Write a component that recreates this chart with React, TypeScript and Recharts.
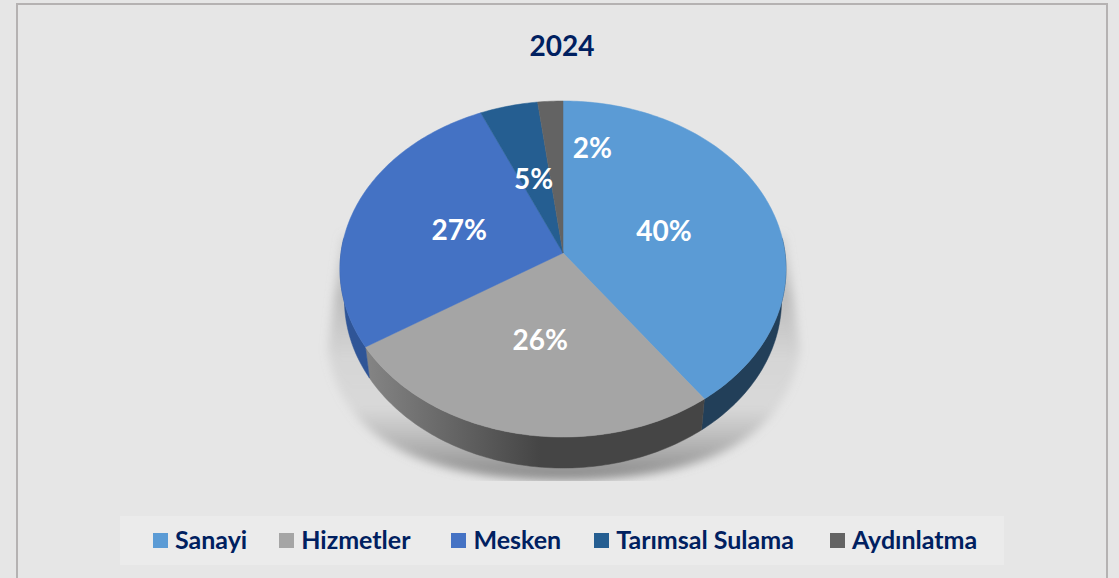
import { PieChart, Pie, Legend } from 'recharts';

const categories = ['Sanayi', 'Hizmetler', 'Mesken', 'Tarımsal Sulama', 'Aydınlatma'];
const shares = [40, 26, 27.4, 4.6, 2];
const topColors = ['#5b9bd5', '#a5a5a5', '#4472c4', '#255e91', '#636363'];
const wallColors = ['#223f59', 'url(#wallGrey)', '#2f5597', '#1a4267', '#454545'];
const labelShift = [[-3, 2], [-1, 0], [1, 0], [-1, 2], [36, -27]];
const legendGaps = [0, 32, 41, 33, 36];

const tableData = categories.map((name, i) => ({
  name,
  value: shares[i],
  fill: topColors[i],
  wall: wallColors[i],
  shift: labelShift[i],
}));

const NAVY = '#002060';
const FONT = 'Lato, sans-serif';
const CX = 563;
const CY = 253;
const RADIUS = 222;
const TILT = 0.75; // vertical squash of the disc
const PERSP = 0.0952; // near edge looks bigger than the far edge
const DEPTH = 31;
const BOTTOM_SCALE = 0.98;

// turn a polar angle on the flat disc into a point on the tilted disc
const project = (deg: number, r: number, cx: number, cy: number) => {
  const rad = (deg * Math.PI) / 180;
  const u = Math.cos(rad) * r;
  const v = -Math.sin(rad) * r;
  const d = 1 - (PERSP * v) / RADIUS;
  return [cx + u / d, cy + (TILT * v) / d];
};

const rimPoints = (from: number, to: number, r: number, cx: number, cy: number) => {
  const steps = Math.max(2, Math.ceil(Math.abs(to - from)));
  const pts: number[][] = [];
  for (let i = 0; i <= steps; i++) {
    pts.push(project(from + ((to - from) * i) / steps, r, cx, cy));
  }
  return pts;
};

const toPath = (pts: number[][]) =>
  'M' + pts.map((p) => `${p[0].toFixed(2)},${p[1].toFixed(2)}`).join('L') + 'Z';

const TopSector = (props: any) => {
  const { cx, cy, outerRadius, startAngle, endAngle, fill } = props;
  const pts = [[cx, cy], ...rimPoints(startAngle, endAngle, outerRadius, cx, cy)];
  return <path d={toPath(pts)} fill={fill} stroke={fill} strokeWidth={0.5} />;
};

const WallSector = (props: any) => {
  const { cx, cy, outerRadius, startAngle, endAngle, wall } = props;
  // only the near half of the rim has a visible wall
  const from = Math.min(startAngle, 5);
  const to = Math.max(endAngle, -185);
  if (from <= to) return <g />;
  const top = rimPoints(from, to, outerRadius, cx, cy);
  const bottom = top
    .map((p) => [cx + (p[0] - cx) * BOTTOM_SCALE, p[1] + DEPTH])
    .reverse();
  return <path d={toPath([...top, ...bottom])} fill={wall} stroke={wall} strokeWidth={0.5} />;
};

const renderPercent = (props: any) => {
  const { cx, cy, outerRadius, midAngle, value, shift } = props;
  const s = shift || props.payload?.shift || [0, 0];
  const [x, y] = project(midAngle, outerRadius * 0.5, cx, cy);
  return (
    <text
      x={x + s[0]}
      y={y + s[1]}
      textAnchor="middle"
      dominantBaseline="central"
      fill="#fff"
      fontFamily={FONT}
      fontWeight={700}
      fontSize={28}
    >
      {`${Math.round(value)}%`}
    </text>
  );
};

const LegendRow = ({ payload }: any) => {
  // both pie layers report their slices, keep one of each
  const items = (payload || []).filter(
    (item: any, i: number, all: any[]) => all.findIndex((o) => o.value === item.value) === i,
  );
  return (
    <div
      style={{
        display: 'flex',
        alignItems: 'center',
        height: 49,
        paddingLeft: 33,
        background: '#ebebeb',
        fontFamily: FONT,
        fontWeight: 700,
        fontSize: 25,
        color: NAVY,
        whiteSpace: 'nowrap',
      }}
    >
      {items.map((item: any, i: number) => (
        <span key={item.value} style={{ display: 'flex', alignItems: 'center', marginLeft: legendGaps[i] }}>
          <span style={{ width: 15, height: 15, background: item.color, marginRight: 7 }} />
          <span style={{ position: 'relative', top: -2 }}>{item.value}</span>
        </span>
      ))}
    </div>
  );
};

export default function App() {
  return (
    <div style={{ position: 'absolute', left: 0, top: 0, width: 1119, height: 578, background: '#e6e6e6', overflow: 'hidden' }}>
      <div
        style={{
          position: 'absolute',
          left: 16,
          top: 3,
          width: 1088,
          height: 600,
          border: '2px solid #b5b2b2',
        }}
      />
      <PieChart
        width={1119}
        height={578}
        margin={{ top: 0, right: 0, bottom: 0, left: 0 }}
        style={{ position: 'absolute', left: 0, top: 0 }}
      >
        <defs>
          <linearGradient id="wallGrey" gradientUnits="userSpaceOnUse" x1={365} y1={0} x2={540} y2={0}>
            <stop offset="0%" stopColor="#858585" />
            <stop offset="100%" stopColor="#454545" />
          </linearGradient>
          <linearGradient id="shadowFill" x1="0" y1="0" x2="0" y2="1">
            <stop offset="0%" stopColor="#9a9a9a" stopOpacity={0.2} />
            <stop offset="25%" stopColor="#9a9a9a" stopOpacity={0.55} />
            <stop offset="50%" stopColor="#9a9a9a" stopOpacity={0.22} />
            <stop offset="70%" stopColor="#9a9a9a" stopOpacity={0.18} />
            <stop offset="100%" stopColor="#7c7c7c" stopOpacity={0.9} />
          </linearGradient>
          <filter id="soft" x="-10%" y="-10%" width="120%" height="120%">
            <feGaussianBlur stdDeviation="5" />
          </filter>
          <clipPath id="shadowClip">
            <rect x={300} y={200} width={520} height={281} />
          </clipPath>
        </defs>
        <g clipPath="url(#shadowClip)">
          <path
            d="M342,235 L328,350 Q345,480 563,480 Q781,480 800,350 L785,235 Z"
            fill="url(#shadowFill)"
            filter="url(#soft)"
          />
        </g>
        <text x={562} y={45} textAnchor="middle" dominantBaseline="central" fill={NAVY} fontFamily={FONT} fontWeight={700} fontSize={28}>
          2024
        </text>
        <Pie
          data={tableData}
          dataKey="value"
          nameKey="name"
          cx={CX}
          cy={CY}
          outerRadius={RADIUS}
          startAngle={90}
          endAngle={-270}
          stroke="none"
          legendType="none"
          shape={WallSector}
          isAnimationActive={false}
        />
        <Pie
          data={tableData}
          dataKey="value"
          nameKey="name"
          cx={CX}
          cy={CY}
          outerRadius={RADIUS}
          startAngle={90}
          endAngle={-270}
          stroke="none"
          shape={TopSector}
          label={renderPercent}
          labelLine={false}
          isAnimationActive={false}
        />
        <Legend
          content={<LegendRow />}
          layout="horizontal"
          align="center"
          verticalAlign="middle"
          itemSorter={null}
          wrapperStyle={{ left: 120, top: 516, width: 884, height: 49 }}
        />
      </PieChart>
    </div>
  );
}
